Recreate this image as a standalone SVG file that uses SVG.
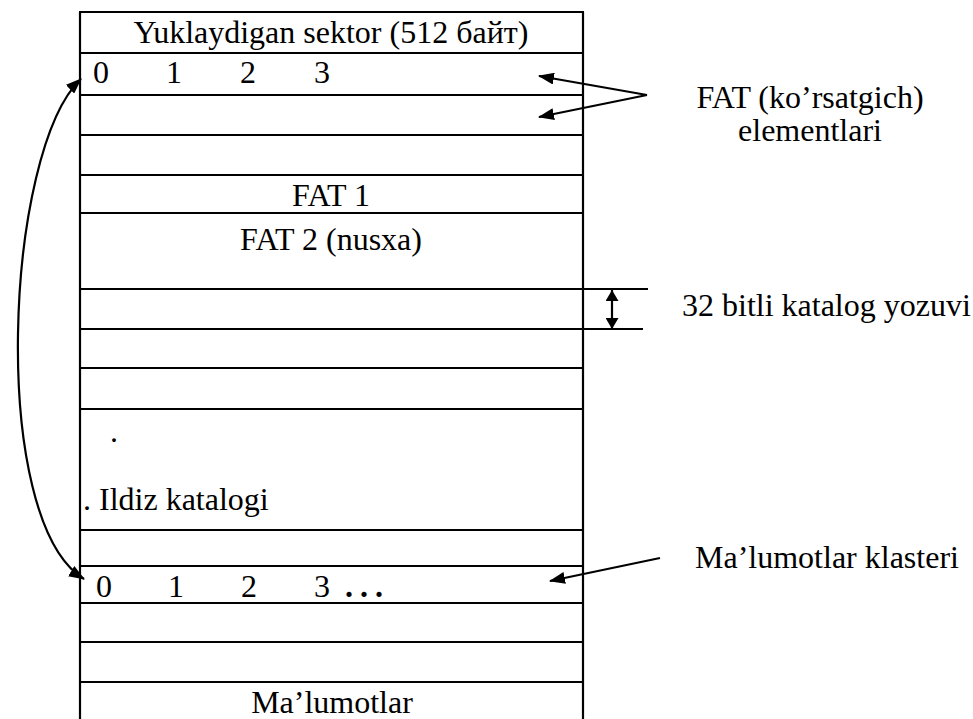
<svg xmlns="http://www.w3.org/2000/svg" width="973" height="719" viewBox="0 0 973 719">
<style>
text{font-family:"Liberation Serif","Times New Roman",serif;font-size:32px;fill:#000}
.c{text-anchor:middle}
.ln{stroke:#000;stroke-width:2.2;fill:none}
.ar{stroke:#000;stroke-width:2.2;fill:none}
</style>
<defs>
<marker id="ah" viewBox="0 0 16 12" refX="15" refY="6" markerWidth="16" markerHeight="12" markerUnits="userSpaceOnUse" orient="auto-start-reverse">
<path d="M0,0 L16,6 L0,12 Z" fill="#000"/>
</marker>
<marker id="ahs" viewBox="0 0 11 13" refX="11" refY="6.5" markerWidth="11" markerHeight="13" markerUnits="userSpaceOnUse" orient="auto-start-reverse">
<path d="M0,0 L11,6.5 L0,13 Z" fill="#000"/>
</marker>
</defs>
<g id="table">
<path class="ln" d="M80,12 V719 M583,12 V719 M79,12 H584 M80,53 H583 M80,95 H583 M80,135 H583 M80,175 H583 M80,213 H583 M80,289 H648 M80,329 H643 M80,368 H583 M80,409 H583 M80,530 H583 M80,566 H583 M80,603 H583 M80,642 H583 M80,682 H583"/>
</g>
<g id="boot"><text class="c" x="331" y="43">Yuklaydigan sektor (512 байт)</text></g>
<g id="fat-row"><text x="93" y="83">0</text><text x="166" y="83">1</text><text x="240" y="83">2</text><text x="314" y="83">3</text></g>
<g id="fat1"><text class="c" x="331" y="206">FAT 1</text></g>
<g id="fat2"><text class="c" x="331" y="250">FAT 2 (nusxa)</text></g>
<g id="root"><text x="110" y="442">.</text><text x="83" y="510">. Ildiz katalogi</text></g>
<g id="cluster-row"><text x="96" y="597">0</text><text x="168" y="597">1</text><text x="241" y="597">2</text><text x="314" y="597">3</text><text x="345" y="597" style="font-weight:bold;letter-spacing:7px">...</text></g>
<g id="data"><text class="c" x="332" y="713">Ma’lumotlar</text></g>
<g id="label-fat"><text class="c" x="810" y="108">FAT (ko’rsatgich)</text><text class="c" x="810" y="141">elementlari</text></g>
<g id="label-entry"><text x="682" y="316">32 bitli katalog yozuvi</text></g>
<g id="label-cluster"><text x="695" y="568">Ma’lumotlar klasteri</text></g>
<g id="connectors">
<path class="ar" d="M647,95 L539,76" marker-end="url(#ah)"/>
<path class="ar" d="M647,95 L539,117" marker-end="url(#ah)"/>
<path class="ar" d="M660,558 L550,581" marker-end="url(#ah)"/>
<path class="ar" d="M612,290 V329" marker-start="url(#ahs)" marker-end="url(#ahs)"/>
<path class="ar" d="M81,79 C5,150 -12,520 84,579" marker-start="url(#ah)" marker-end="url(#ah)"/>
</g>
</svg>
